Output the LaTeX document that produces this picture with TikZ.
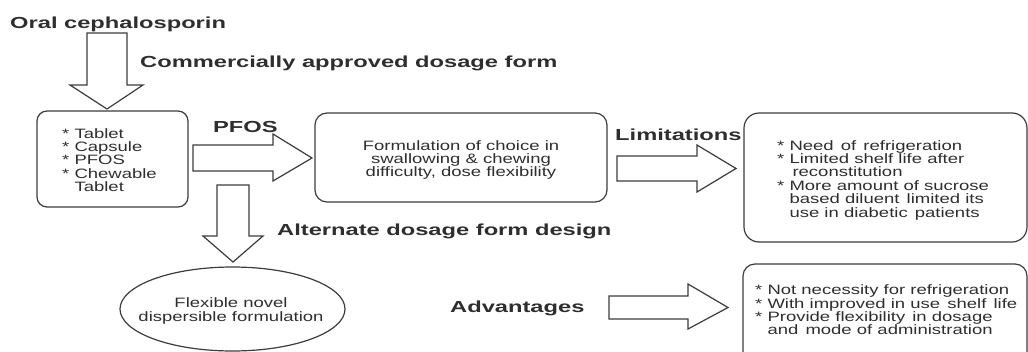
\documentclass[tikz,border=0pt]{standalone}
\usepackage{fontspec}
\setmainfont{Liberation Sans}[FakeStretch=1.36]
\newfontfamily\lblfont{Liberation Sans}[FakeStretch=1.48]
\usetikzlibrary{shapes.geometric}
\definecolor{ln}{HTML}{3C3C3C}
\definecolor{tx}{HTML}{2E2E2E}
\newcommand\ind{\hphantom{* }}
\newcommand\dsp{\ \kern2pt}
\begin{document}
\begin{tikzpicture}[x=1pt,y=-1pt,
  lbl/.style={font=\lblfont\fontsize{16}{19}\selectfont\bfseries, text=tx, inner sep=0pt, anchor=base west},
  body/.style={font=\fontsize{13.6}{13.4}\selectfont, text=tx, inner sep=0pt, align=left, anchor=west},
  rbox/.style={draw=ln, line width=1.2pt, rounded corners=10pt, inner sep=0pt},
  barrow/.style={draw=ln, line width=1.2pt, fill=white, line join=miter}]
\useasboundingbox (0,0) rectangle (1028,351);
\clip (0,0) rectangle (1028,351);

% labels
\node[lbl] (oral) at (10,28) {Oral cephalosporin};
\node[lbl] (comm) at (140,67) {Commercially approved dosage form};
\node[lbl] (pfos) at (213,132) {PFOS};
\node[lbl] (alt) at (277,235) {Alternate dosage form design};
\node[lbl] (lim) at (615,140) {Limitations};
\node[lbl] (adv) at (450,312) {Advantages};

% boxes
\node[rbox, minimum width=151pt, minimum height=96pt] (b1) at (112.5,159) {};
\node[rbox, rounded corners=12pt, minimum width=292pt, minimum height=89pt] (b2) at (461,157.5) {};
\node[rbox, rounded corners=15pt, minimum width=283pt, minimum height=129pt] (b3) at (885.5,177.5) {};
\node[rbox, rounded corners=12pt, minimum width=284pt, minimum height=100pt] (b4) at (885,314) {};
\node[draw=ln, line width=1.2pt, ellipse, minimum width=225pt, minimum height=84pt, inner sep=0pt] (e1) at (232.5,309) {};

% box texts
\node[body] (t1) at (62,160) {* Tablet\\* Capsule\\* PFOS\\* Chewable\\\ind Tablet};
\node[body, align=center, anchor=center] (t2) at (461,160) {Formulation of choice in\\swallowing \& chewing\\difficulty, dose flexibility};
\node[body] (t3) at (777,180) {* Need\dsp of\dsp refrigeration\\* Limited shelf life after\\\ind\kern3pt reconstitution\\* More amount of sucrose\\\ind based diluent\dsp limited its\\\ind use in diabetic\dsp patients};
\node[body] (t4) at (755,310) {* Not necessity for refrigeration\\* With improved in use\dsp shelf\dsp life\\* Provide flexibility\dsp in dosage\\\ind and\dsp mode of administration};
\node[body, align=center, anchor=center] (t5) at (231,311) {Flexible novel\\dispersible formulation};

% block arrows
\draw[barrow] (87,33) -- (127,33) -- (127,85) -- (143,85) -- (107,109) -- (70,85) -- (87,85) -- cycle;
\draw[barrow] (193,145) -- (273,145) -- (273,134) -- (312,158) -- (273,181) -- (273,171) -- (193,171) -- cycle;
\draw[barrow] (217,185) -- (249,185) -- (249,236) -- (263,236) -- (233,262) -- (203,236) -- (217,236) -- cycle;
\draw[barrow] (617,156) -- (697,156) -- (697,145) -- (736,168.5) -- (697,192) -- (697,181) -- (617,181) -- cycle;
\draw[barrow] (609,296) -- (688,296) -- (688,284) -- (728,307.5) -- (688,329) -- (688,319) -- (609,319) -- cycle;
\end{tikzpicture}
\end{document}
